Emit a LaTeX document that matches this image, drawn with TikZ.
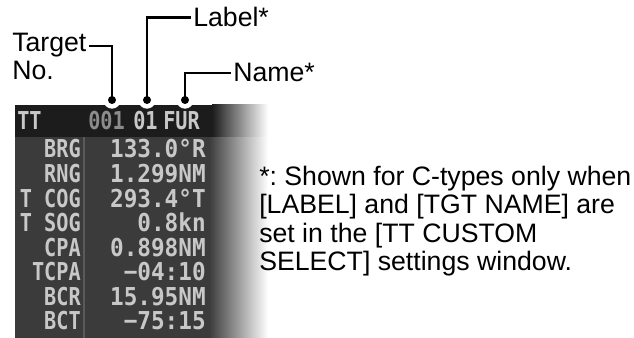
\documentclass[tikz,border=0pt]{standalone}
\usepackage{fontspec}
\setmainfont{Liberation Sans}
\newfontfamily\lcdfont[FakeStretch=0.92]{DejaVu Sans Mono}
\newfontfamily\lcdnarrow[FakeStretch=0.82]{DejaVu Sans Mono}
\usetikzlibrary{positioning,calc}
\definecolor{hdrbg}{HTML}{1C1C1C}
\definecolor{bodybg}{HTML}{3B3B3B}
\definecolor{lcdtext}{HTML}{C8C8C8}
\definecolor{lcddim}{HTML}{8C8C8C}
\definecolor{sepline}{HTML}{5A5A5A}
\newcommand{\lcdsize}{\fontsize{18.5pt}{19pt}\selectfont}

\begin{document}
\frenchspacing
\begin{tikzpicture}[x=0.75pt,y=-0.75pt,
  callout/.style={font=\fontsize{20}{21.25}\selectfont,inner sep=1.5pt,anchor=base west},
  leader/.style={line width=1.6pt},
  pin/.style={circle,fill=black,inner sep=0pt,minimum size=6pt},
  halo/.style={circle,fill=white,inner sep=0pt,minimum size=13pt},
  key/.style={font={\lcdnarrow\bfseries\lcdsize},text=lcdtext,inner sep=0pt,anchor=base east},
  val/.style={font={\lcdfont\bfseries\lcdsize},text=lcdtext,inner sep=0pt,anchor=base east}]
\useasboundingbox (0,0) rectangle (634,338);

% TT data window
\fill[bodybg] (15,137) rectangle (210,338);
\shade[left color=bodybg,right color=white] (209,137) rectangle (268,338);
\fill[hdrbg] (15,105) rectangle (213,137);
\shade[left color=hdrbg,right color=white] (212,105) rectangle (268,137);
\draw[sepline,line width=0.8pt] (84,137) -- (84,338);

\node[key,anchor=base west] (tt) at (17,130) {TT};
\node[key,anchor=base west,text=lcddim] (numid) at (88,130) {001};
\node[key,anchor=base west] (lblid) at (133,130) {01};
\node[key,anchor=base west] (nameid) at (163,130) {FUR};

\foreach \k/\v [count=\i from 0] in {BRG/133.0°R, RNG/1.299NM, T COG/293.4°T,
    T SOG/0.8kn, CPA/0.898NM, TCPA/−04:10, BCR/15.95NM, BCT/−75:15}{
  \node[key] (k\i) at (81,158+24.5*\i) {\k};
  \node[val] (v\i) at (206,158+24.5*\i) {\v};
}

% callouts
\node[halo] (hTgt) at (112,100) {};
\node[halo] (hLbl) at (147,100) {};
\node[halo] (hName) at (185,100) {};
\node[pin] (dTgt) at (112,100) {};
\node[pin] (dLbl) at (147,100) {};
\node[pin] (dName) at (185,100) {};

\node[callout] (tgt) at (10,52) {Target};
\node[callout] (tgtNo) at (10,80) {No.};
\node[callout] (lbl) at (191,27) {Label*};
\node[callout] (nm) at (231,82) {Name*};

\draw[leader] (dTgt.center) |- (tgt.east);
\draw[leader] (dLbl.center) |- (lbl.west);
\draw[leader] (dName.center) |- (nm.west);

\node[callout,anchor=north west,align=left] (note) at (257,164)
  {*: Shown for C-types only when\\\relax [LABEL] and [TGT NAME] are\\set in the [TT CUSTOM\\SELECT] settings window.};
\end{tikzpicture}
\end{document}
